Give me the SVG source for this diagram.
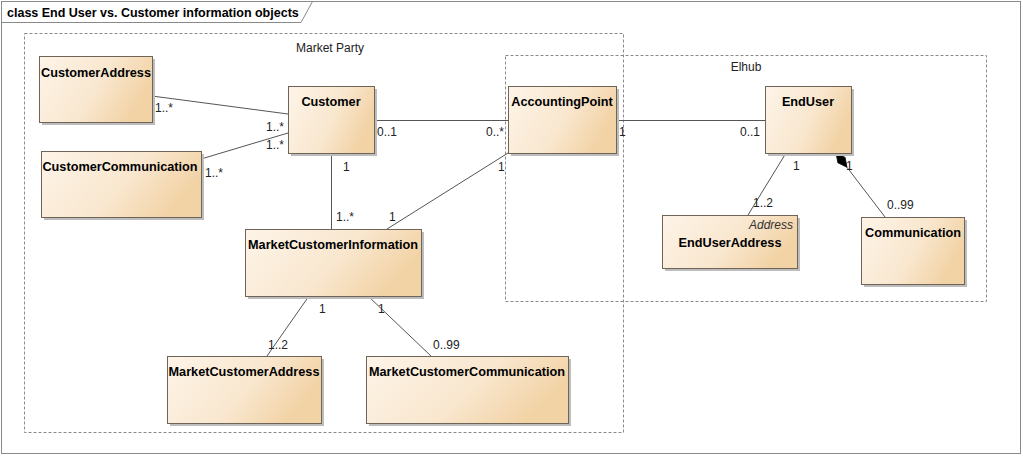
<svg xmlns="http://www.w3.org/2000/svg" width="1023" height="456" viewBox="0 0 1023 456">
<defs>
<linearGradient id="g" x1="0" y1="0" x2="1" y2="0.35">
<stop offset="0" stop-color="#fdf4e8"/>
<stop offset="0.6" stop-color="#f9e7cf"/>
<stop offset="1" stop-color="#f2d3a6"/>
</linearGradient>
<style>
.box{fill:url(#g);stroke:#6e6458;stroke-width:1}
.sh{fill:#bdbdbd}
.t{font-family:"Liberation Sans",Arial,sans-serif;font-weight:bold;font-size:12.7px;fill:#000;text-anchor:middle}
.st{font-family:"Liberation Sans",Arial,sans-serif;font-style:italic;font-size:12px;fill:#333;text-anchor:end}
.l{font-family:"Liberation Sans",Arial,sans-serif;font-size:12px;fill:#222}
.pk{fill:none;stroke:#8a8a8a;stroke-width:1;stroke-dasharray:3,2}
.pl{font-family:"Liberation Sans",Arial,sans-serif;font-size:12px;fill:#222;text-anchor:middle}
.c{stroke:#555;stroke-width:1;fill:none}
</style>
</defs>
<rect x="0" y="0" width="1023" height="456" fill="#fff"/>
<rect x="1.5" y="1.5" width="1019" height="452" fill="none" stroke="#8a8a8a" stroke-width="1"/>
<path d="M1.5,22.5 H301 L312.5,1.5" fill="none" stroke="#8a8a8a"/>
<text x="7" y="17" font-family="'Liberation Sans',Arial,sans-serif" font-weight="bold" font-size="12.5px" fill="#000">class End User vs. Customer information objects</text>

<g id="pkg-market-party">
<rect class="pk" x="24.5" y="33.5" width="599" height="399"/>
<text class="pl" x="330" y="52">Market Party</text>
</g>
<g id="pkg-elhub">
<rect class="pk" x="505.5" y="55.5" width="481" height="246"/>
<text class="pl" x="746" y="71">Elhub</text>
</g>

<g id="connectors">
<line class="c" x1="152" y1="96" x2="288" y2="114"/>
<line class="c" x1="201" y1="159" x2="288" y2="133"/>
<line class="c" x1="374" y1="120.5" x2="508" y2="120.5"/>
<line class="c" x1="331.5" y1="153" x2="331.5" y2="229"/>
<line class="c" x1="508" y1="153" x2="387" y2="229"/>
<line class="c" x1="616" y1="120.5" x2="765" y2="120.5"/>
<line class="c" x1="786" y1="153" x2="748" y2="215"/>
<line class="c" x1="847" y1="167.3" x2="885" y2="217"/>
<path d="M836,153 L845.1,157.4 L847,167.3 L837.9,162.8 Z" fill="#000" stroke="#000" stroke-width="0.8"/>
<line class="c" x1="309" y1="296" x2="267" y2="356"/>
<line class="c" x1="368" y1="296" x2="431" y2="356"/>
<text class="l" x="155" y="112">1..*</text>
<text class="l" x="266" y="131">1..*</text>
<text class="l" x="266" y="149">1..*</text>
<text class="l" x="205" y="177">1..*</text>
<text class="l" x="377" y="136">0..1</text>
<text class="l" x="486" y="136">0..*</text>
<text class="l" x="343" y="171">1</text>
<text class="l" x="336" y="221">1..*</text>
<text class="l" x="498" y="171">1</text>
<text class="l" x="389" y="221">1</text>
<text class="l" x="619" y="136">1</text>
<text class="l" x="740" y="136">0..1</text>
<text class="l" x="793" y="170">1</text>
<text class="l" x="753" y="207">1..2</text>
<text class="l" x="846" y="170">1</text>
<text class="l" x="887" y="209">0..99</text>
<text class="l" x="319" y="313">1</text>
<text class="l" x="268" y="349">1..2</text>
<text class="l" x="378" y="313">1</text>
<text class="l" x="433" y="349">0..99</text>
</g>

<g id="CustomerAddress">
<rect class="sh" x="42" y="59" width="113" height="66"/>
<rect class="box" x="39.5" y="56.5" width="113" height="66"/>
<text class="t" x="96" y="77">CustomerAddress</text>
</g>
<g id="CustomerCommunication">
<rect class="sh" x="44" y="154" width="160" height="66"/>
<rect class="box" x="41.5" y="151.5" width="160" height="66"/>
<text class="t" x="120" y="171">CustomerCommunication</text>
</g>
<g id="Customer">
<rect class="sh" x="291" y="89" width="86" height="67"/>
<rect class="box" x="288.5" y="86.5" width="86" height="67"/>
<text class="t" x="331" y="106">Customer</text>
</g>
<g id="AccountingPoint">
<rect class="sh" x="511" y="89" width="108" height="67"/>
<rect class="box" x="508.5" y="86.5" width="108" height="67"/>
<text class="t" x="562" y="106">AccountingPoint</text>
</g>
<g id="EndUser">
<rect class="sh" x="768" y="89" width="86" height="67"/>
<rect class="box" x="765.5" y="86.5" width="86" height="67"/>
<text class="t" x="808" y="106">EndUser</text>
</g>
<g id="EndUserAddress">
<rect class="sh" x="665" y="218" width="135" height="53"/>
<rect class="box" x="662.5" y="215.5" width="135" height="53"/>
<text class="st" x="793" y="229">Address</text>
<text class="t" x="730" y="247">EndUserAddress</text>
</g>
<g id="Communication">
<rect class="sh" x="864" y="220" width="103" height="67"/>
<rect class="box" x="861.5" y="217.5" width="103" height="67"/>
<text class="t" x="913" y="237">Communication</text>
</g>
<g id="MarketCustomerInformation">
<rect class="sh" x="248" y="232" width="176" height="67"/>
<rect class="box" x="245.5" y="229.5" width="176" height="67"/>
<text class="t" x="333" y="249">MarketCustomerInformation</text>
</g>
<g id="MarketCustomerAddress">
<rect class="sh" x="170" y="359" width="154" height="67"/>
<rect class="box" x="167.5" y="356.5" width="154" height="67"/>
<text class="t" x="244" y="376">MarketCustomerAddress</text>
</g>
<g id="MarketCustomerCommunication">
<rect class="sh" x="369" y="359" width="202" height="67"/>
<rect class="box" x="366.5" y="356.5" width="202" height="67"/>
<text class="t" x="467" y="376">MarketCustomerCommunication</text>
</g>
</svg>
